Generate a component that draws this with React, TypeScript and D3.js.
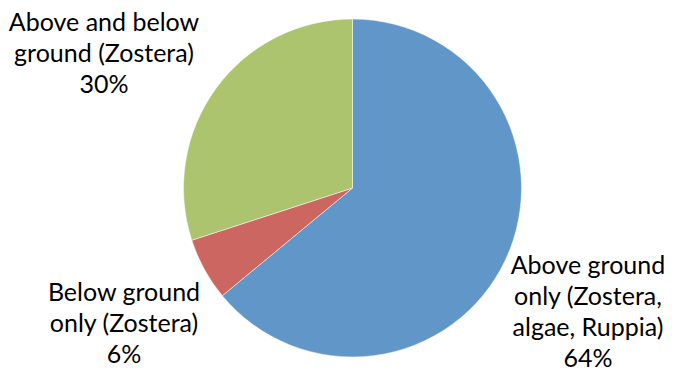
import React from "react";
import * as d3 from "d3";

const categories = [
  "Above ground only (Zostera, algae, Ruppia)",
  "Below ground only (Zostera)",
  "Above and below ground (Zostera)",
];
const values = [64, 6, 30];
const colors = ["#6096c8", "#cc6660", "#abc46d"];
const labelLines = [
  ["Above ground", "only (Zostera,", "algae, Ruppia)", "64%"],
  ["Below ground", "only (Zostera)", "6%"],
  ["Above and below", "ground (Zostera)", "30%"],
];
const labelPos = [
  { x: 588, y: 274 },
  { x: 124, y: 301 },
  { x: 104, y: 31 },
];

export default function App() {
  const W = 674, H = 370;
  const cx = 352.5, cy = 188, r = 169;
  const pie = d3.pie<number>().sort(null).value((d) => d);
  const arcs = pie(values);
  const arc = d3.arc<d3.PieArcDatum<number>>().innerRadius(0).outerRadius(r);
  return (
    <svg width={W} height={H} style={{ position: "absolute", left: 0, top: 0 }}>
      <rect width={W} height={H} fill="#fff" />
      <g transform={`translate(${cx},${cy})`}>
        {arcs.map((a, i) => (
          <path key={categories[i]} d={arc(a) || ""} fill={colors[i]} stroke="#fff" strokeWidth={0.5} />
        ))}
      </g>
      {labelLines.map((lines, i) => (
        <text key={i} textAnchor="middle" fontFamily="Lato, 'Open Sans', sans-serif" fontSize={25} fill="#000">
          {lines.map((l, j) => (
            <tspan key={j} x={labelPos[i].x} y={labelPos[i].y + j * 31}>{l}</tspan>
          ))}
        </text>
      ))}
    </svg>
  );
}
